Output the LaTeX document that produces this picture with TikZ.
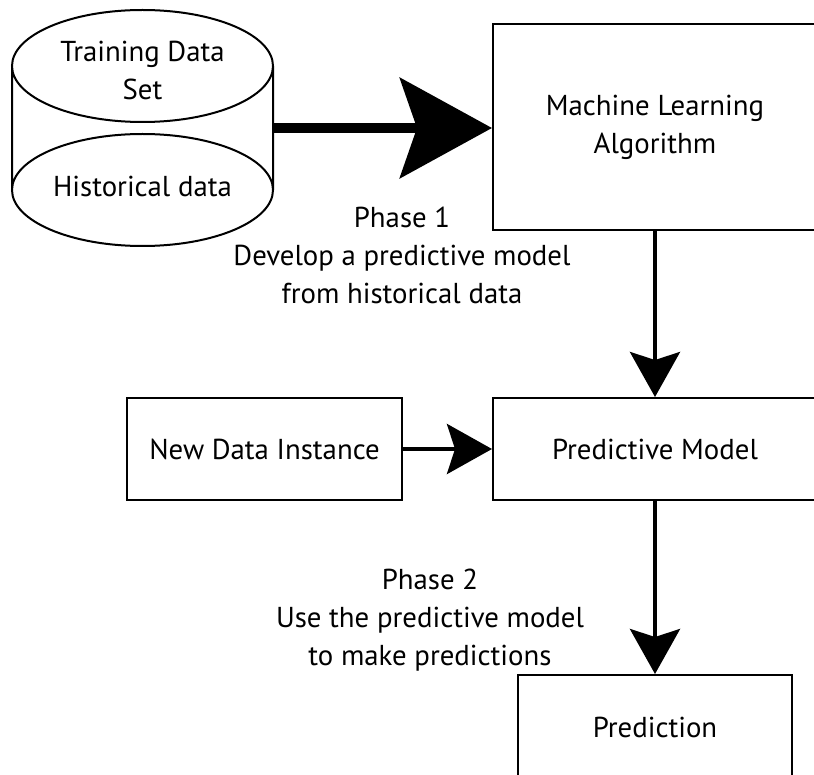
\documentclass[tikz,border=0pt]{standalone}
\usepackage{fontspec}
\setmainfont{PT Sans}
\usetikzlibrary{arrows.meta}

\begin{document}
\begin{tikzpicture}[x=0.5pt,y=-0.5pt,
  font=\fontsize{14.4}{19}\selectfont,
  box/.style={draw, line width=1pt, align=center, minimum height=51pt},
  flow/.style={line width=2pt, -{Stealth[length=22.5pt,width=25pt,inset=4pt]}},
  bigflow/.style={line width=5pt, -{Stealth[length=46pt,width=50pt,inset=8.5pt]}}]
  \useasboundingbox (0,0) rectangle (814,775);
  \clip (0,0) rectangle (814,775);
  \draw[line width=1pt] (142.5,66) ellipse [x radius=130.5, y radius=56]
    (142.5,190) ellipse [x radius=130.5, y radius=56]
    (12,66) -- (12,190) (273,66) -- (273,190);
  \node[align=center] (train) at (142.5,70) {Training Data\\Set};
  \node (hist) at (142.5,186) {Historical data};
  \coordinate (db) at (273,128);
  \node[box, minimum width=162pt, minimum height=103pt] (mla) at (655,127) {Machine Learning\\Algorithm};
  \node[box, minimum width=162pt] (pm) at (655,449) {Predictive Model};
  \node[box, minimum width=137.5pt] (ndi) at (264.5,449) {New Data Instance};
  \node[box, minimum width=137pt, minimum height=52pt] (pred) at (655,727) {Prediction};
  \node[align=center] (ph1) at (402,255) {Phase 1\\Develop a predictive model\\from historical data};
  \node[align=center] (ph2) at (430,620) {Phase 2\\Use the predictive model\\to make predictions};
  \draw[bigflow] (db) -- (db -| mla.west);
  \draw[flow] (mla) -- (pm);
  \draw[flow] (ndi) -- (pm);
  \draw[flow] (pm) -- (pred);
\end{tikzpicture}
\end{document}
